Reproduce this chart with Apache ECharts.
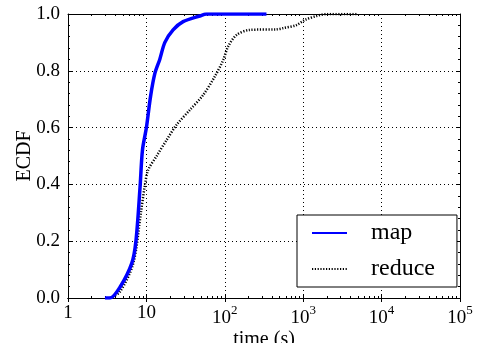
<!DOCTYPE html>
<html><head><meta charset="utf-8">
<script src="https://cdn.jsdelivr.net/npm/echarts@6/dist/echarts.min.js"></script>
<style>html,body{margin:0;padding:0;background:#fff}#c{width:477px;height:343px}</style>
</head><body><div id="c"></div>
<script>
const seriesNames = ['map', 'reduce'];
const mapX = [2.96, 3.43, 4.6, 6.5, 7.35, 8.3, 8.9, 10, 11.3, 12.8, 14.8, 17.2, 21.9, 29.4, 48, 58.5, 340];
const mapY = [0, 0, 0.038, 0.122, 0.20, 0.39, 0.52, 0.60, 0.71, 0.79, 0.84, 0.90, 0.944, 0.973, 0.993, 1.0, 1.0];
const reduceX = [3.43, 4.6, 6.8, 8.5, 9.6, 10.5, 13.5, 18.1, 24.3, 35.8, 53, 74.6, 95.5, 110, 141, 208, 457, 550, 820, 1050, 1480, 1990, 5000];
const reduceY = [0, 0.022, 0.122, 0.30, 0.40, 0.45, 0.50, 0.556, 0.61, 0.662, 0.715, 0.78, 0.838, 0.885, 0.926, 0.944, 0.946, 0.95, 0.961, 0.979, 0.993, 1.0, 1.0];
const xMinorTicks = [2,3,4,5,6,7,8,9,20,30,40,50,60,70,80,90,200,300,400,500,600,700,800,900,2000,3000,4000,5000,6000,7000,8000,9000,20000,30000,40000,50000,60000,70000,80000,90000];
const xTitle = 'time (s)';
const yTitle = 'ECDF';

const FONT = 'Liberation Serif';
const zip = (a, b) => a.map((v, i) => [v, b[i]]);
const chart = echarts.init(document.getElementById('c'), null, {renderer: 'canvas'});
const xFmt = v => {
  const e = Math.round(Math.log10(v));
  if (e < 2) return String(Math.round(v));
  return '{b|10}{s|' + e + '}';
};
const baseX = {
  type: 'log', logBase: 10, min: 1, max: 100000,
  axisLine: {show: true, lineStyle: {color: '#000', width: 1}},
};
chart.setOption({
  animation: false,
  grid: {left: 68, right: 17, top: 14, bottom: 45, containLabel: false, outerBoundsMode: 'none'},
  legend: {
    data: seriesNames, orient: 'vertical', left: 297, top: 215,
    itemWidth: 35, itemHeight: 14, itemGap: 12,
    padding: [6, 22, 6, 14],
    itemStyle: {opacity: 0, borderWidth: 0, color: 'transparent'},
    borderColor: '#000', borderWidth: 1, borderRadius: 0, backgroundColor: '#fff',
    textStyle: {fontFamily: FONT, fontSize: 24, color: '#000', lineHeight: 24, padding: [0, 0, 0, 19]}
  },
  xAxis: [
    Object.assign({}, baseX, {
      position: 'bottom', name: xTitle, nameLocation: 'middle', nameGap: 32, nameMoveOverlap: false,
      nameTextStyle: {fontFamily: FONT, fontSize: 20, color: '#000'},
      axisTick: {show: true, inside: true, length: 4, lineStyle: {color: '#000'}},
      axisLabel: {show: true, margin: 6, formatter: xFmt, color: '#000', fontFamily: FONT, fontSize: 19,
        rich: {b: {fontFamily: FONT, fontSize: 19, color: '#000', lineHeight: 24, verticalAlign: 'bottom'},
               s: {fontFamily: FONT, fontSize: 13, color: '#000', verticalAlign: 'top', lineHeight: 13}}},
      splitLine: {show: true, lineStyle: {color: '#000', type: [1, 3], width: 1}}
    }),
    Object.assign({}, baseX, {
      position: 'top',
      axisTick: {show: true, inside: true, length: 4, lineStyle: {color: '#000'}},
      axisLabel: {show: false}, splitLine: {show: false}
    }),
    Object.assign({}, baseX, {
      position: 'bottom',
      axisTick: {show: true, inside: true, length: 2, customValues: xMinorTicks, lineStyle: {color: '#000'}},
      axisLabel: {show: false}, splitLine: {show: false}
    }),
    Object.assign({}, baseX, {
      position: 'top',
      axisTick: {show: true, inside: true, length: 2, customValues: xMinorTicks, lineStyle: {color: '#000'}},
      axisLabel: {show: false}, splitLine: {show: false}
    })
  ],
  yAxis: [
    {
      type: 'value', min: 0, max: 1, interval: 0.2, position: 'left',
      name: yTitle, nameLocation: 'middle', nameGap: 33, nameRotate: 90, nameMoveOverlap: false,
      nameTextStyle: {fontFamily: FONT, fontSize: 20, color: '#000'},
      axisLine: {show: true, lineStyle: {color: '#000'}},
      axisTick: {show: true, inside: true, length: 4, lineStyle: {color: '#000'}},
      minorTick: {show: true, splitNumber: 5, length: 2, lineStyle: {color: '#000'}},
      axisLabel: {margin: 8, color: '#000', fontFamily: FONT, fontSize: 19, formatter: v => v.toFixed(1)},
      splitLine: {show: true, lineStyle: {color: '#000', type: [1, 3], width: 1}}
    },
    {
      type: 'value', min: 0, max: 1, interval: 0.2, position: 'right',
      axisLine: {show: true, lineStyle: {color: '#000'}},
      axisTick: {show: true, inside: true, length: 4, lineStyle: {color: '#000'}},
      minorTick: {show: true, splitNumber: 5, length: 2, lineStyle: {color: '#000'}},
      axisLabel: {show: false}, splitLine: {show: false}
    }
  ],
  series: [
    {
      name: seriesNames[0], type: 'line', xAxisIndex: 0, yAxisIndex: 0,
      data: zip(mapX, mapY), symbol: 'none', smooth: 0.3, z: 3,
      lineStyle: {color: '#0000ff', width: 3.5}, itemStyle: {color: '#0000ff'}
    },
    {
      name: seriesNames[1], type: 'line', xAxisIndex: 0, yAxisIndex: 0,
      data: zip(reduceX, reduceY), symbol: 'none', smooth: 0.3, z: 2,
      lineStyle: {color: '#000', width: 2.5, type: [1.2, 1.6]}, itemStyle: {color: '#000'}
    }
  ]
});
</script></body></html>
